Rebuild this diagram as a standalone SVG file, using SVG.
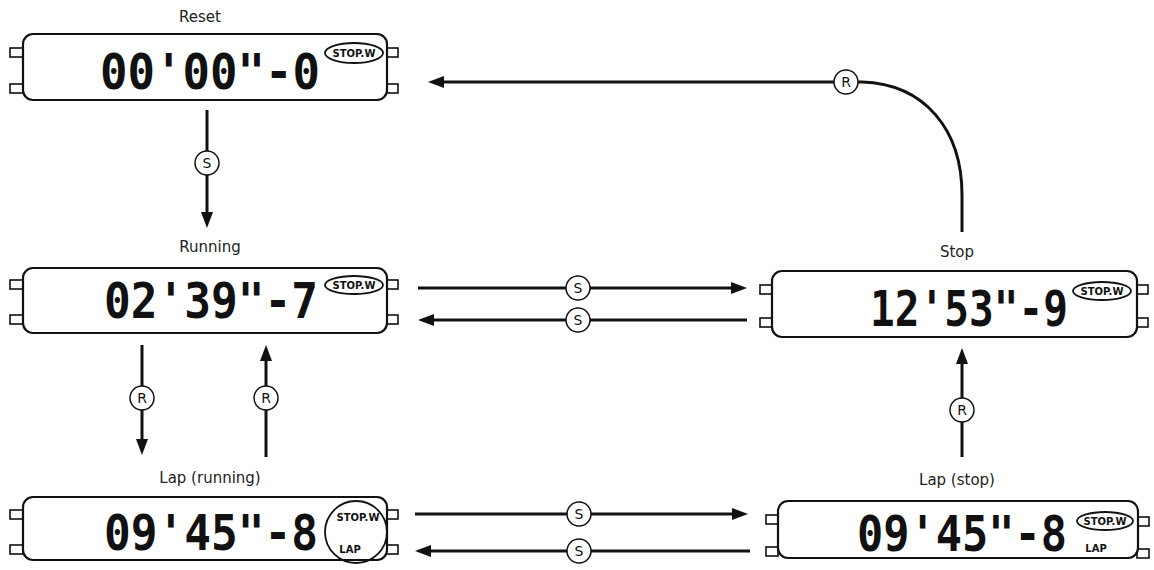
<svg xmlns="http://www.w3.org/2000/svg" width="1154" height="570" viewBox="0 0 1154 570">
<style>
.box{fill:#fff;stroke:#111;stroke-width:2.2}
.tab{fill:#fff;stroke:#111;stroke-width:1.6}
.lbl{font-family:"DejaVu Sans",sans-serif;font-size:15px;fill:#222;text-anchor:middle}
.lcd{font-family:"DejaVu Sans Mono","Liberation Mono",monospace;font-size:50px;fill:#111;font-weight:bold}
.ind{fill:none;stroke:#111;stroke-width:1.8}
.sm{font-family:"DejaVu Sans","Liberation Sans",sans-serif;font-size:10px;font-weight:bold;fill:#111;text-anchor:middle}
.con{fill:none;stroke:#111;stroke-width:3}
.btn{fill:#fff;stroke:#111;stroke-width:1.5}
.bt{font-family:"DejaVu Sans",sans-serif;font-size:14px;fill:#111;text-anchor:middle}
</style>
<defs>
<marker id="ah" markerUnits="userSpaceOnUse" markerWidth="18" markerHeight="12" refX="4" refY="6" orient="auto">
<path d="M0,0 L16,6 L0,12 z" fill="#111"/>
</marker>
</defs>

<g id="reset">
<text class="lbl" x="200" y="22">Reset</text>
<rect class="tab" x="10" y="48" width="13" height="9"/>
<rect class="tab" x="10" y="84" width="13" height="9"/>
<rect class="tab" x="386" y="48" width="12" height="9"/>
<rect class="tab" x="386" y="84" width="12" height="9"/>
<rect class="box" x="23" y="34" width="364" height="66" rx="10"/>
<text class="lcd" x="100" y="89" textLength="220" lengthAdjust="spacingAndGlyphs">00'00"-0</text>
<ellipse class="ind" cx="354" cy="53" rx="29" ry="10"/>
<text class="sm" x="354" y="57">STOP.W</text>
</g>

<g id="running">
<text class="lbl" x="210" y="252">Running</text>
<rect class="tab" x="10" y="280" width="13" height="9"/>
<rect class="tab" x="10" y="315" width="13" height="9"/>
<rect class="tab" x="386" y="280" width="12" height="9"/>
<rect class="tab" x="386" y="315" width="12" height="9"/>
<rect class="box" x="23" y="268" width="364" height="65" rx="10"/>
<text class="lcd" x="104" y="318" textLength="214" lengthAdjust="spacingAndGlyphs">02'39"-7</text>
<ellipse class="ind" cx="354" cy="285" rx="29" ry="9"/>
<text class="sm" x="354" y="289">STOP.W</text>
</g>

<g id="lap-running">
<text class="lbl" x="210" y="483">Lap (running)</text>
<rect class="tab" x="10" y="510" width="13" height="9"/>
<rect class="tab" x="10" y="545" width="13" height="9"/>
<rect class="tab" x="386" y="510" width="12" height="9"/>
<rect class="tab" x="386" y="545" width="12" height="9"/>
<rect class="box" x="23" y="497" width="364" height="63" rx="10"/>
<text class="lcd" x="104" y="550" textLength="214" lengthAdjust="spacingAndGlyphs">09'45"-8</text>
<circle class="ind" cx="356" cy="532" r="31"/>
<text class="sm" x="358" y="521">STOP.W</text>
<text class="sm" x="350" y="553">LAP</text>
</g>

<g id="stop">
<text class="lbl" x="957" y="257">Stop</text>
<rect class="tab" x="760" y="285" width="12" height="9"/>
<rect class="tab" x="760" y="318" width="12" height="9"/>
<rect class="tab" x="1136" y="285" width="12" height="9"/>
<rect class="tab" x="1136" y="318" width="12" height="9"/>
<rect class="box" x="772" y="271" width="365" height="66" rx="10"/>
<text class="lcd" x="870" y="326" textLength="198" lengthAdjust="spacingAndGlyphs">12'53"-9</text>
<ellipse class="ind" cx="1102" cy="291" rx="29" ry="9"/>
<text class="sm" x="1102" y="295">STOP.W</text>
</g>

<g id="lap-stop">
<text class="lbl" x="957" y="485">Lap (stop)</text>
<rect class="tab" x="766" y="515" width="12" height="9"/>
<rect class="tab" x="766" y="547" width="12" height="9"/>
<rect class="tab" x="1137" y="517" width="12" height="9"/>
<rect class="tab" x="1137" y="549" width="12" height="9"/>
<rect class="box" x="778" y="501" width="360" height="57" rx="10"/>
<text class="lcd" x="857" y="551" textLength="210" lengthAdjust="spacingAndGlyphs">09'45"-8</text>
<ellipse class="ind" cx="1105" cy="521" rx="28" ry="9"/>
<text class="sm" x="1105" y="525">STOP.W</text>
<text class="sm" x="1096" y="552">LAP</text>
</g>

<g id="connectors">
<path class="con" d="M207,110 V216" marker-end="url(#ah)"/>
<path class="con" d="M418,288 H735" marker-end="url(#ah)"/>
<path class="con" d="M747,320 H430" marker-end="url(#ah)"/>
<path class="con" d="M142,345 V443" marker-end="url(#ah)"/>
<path class="con" d="M266,457 V357" marker-end="url(#ah)"/>
<path class="con" d="M415,514 H736" marker-end="url(#ah)"/>
<path class="con" d="M750,551 H427" marker-end="url(#ah)"/>
<path class="con" d="M962,457 V360" marker-end="url(#ah)"/>
<path class="con" d="M962,232 V195 C962,130 925,84 862,82 H440" marker-end="url(#ah)"/>
<circle class="btn" cx="207" cy="163" r="12"/><text class="bt" x="207" y="168">S</text>
<circle class="btn" cx="578" cy="288" r="12"/><text class="bt" x="578" y="293">S</text>
<circle class="btn" cx="578" cy="320" r="12"/><text class="bt" x="578" y="325">S</text>
<circle class="btn" cx="142" cy="398" r="12"/><text class="bt" x="142" y="403">R</text>
<circle class="btn" cx="266" cy="398" r="12"/><text class="bt" x="266" y="403">R</text>
<circle class="btn" cx="579" cy="514" r="12"/><text class="bt" x="579" y="519">S</text>
<circle class="btn" cx="579" cy="551" r="12"/><text class="bt" x="579" y="556">S</text>
<circle class="btn" cx="962" cy="410" r="12"/><text class="bt" x="962" y="415">R</text>
<circle class="btn" cx="846" cy="82" r="12"/><text class="bt" x="846" y="87">R</text>
</g>
</svg>
